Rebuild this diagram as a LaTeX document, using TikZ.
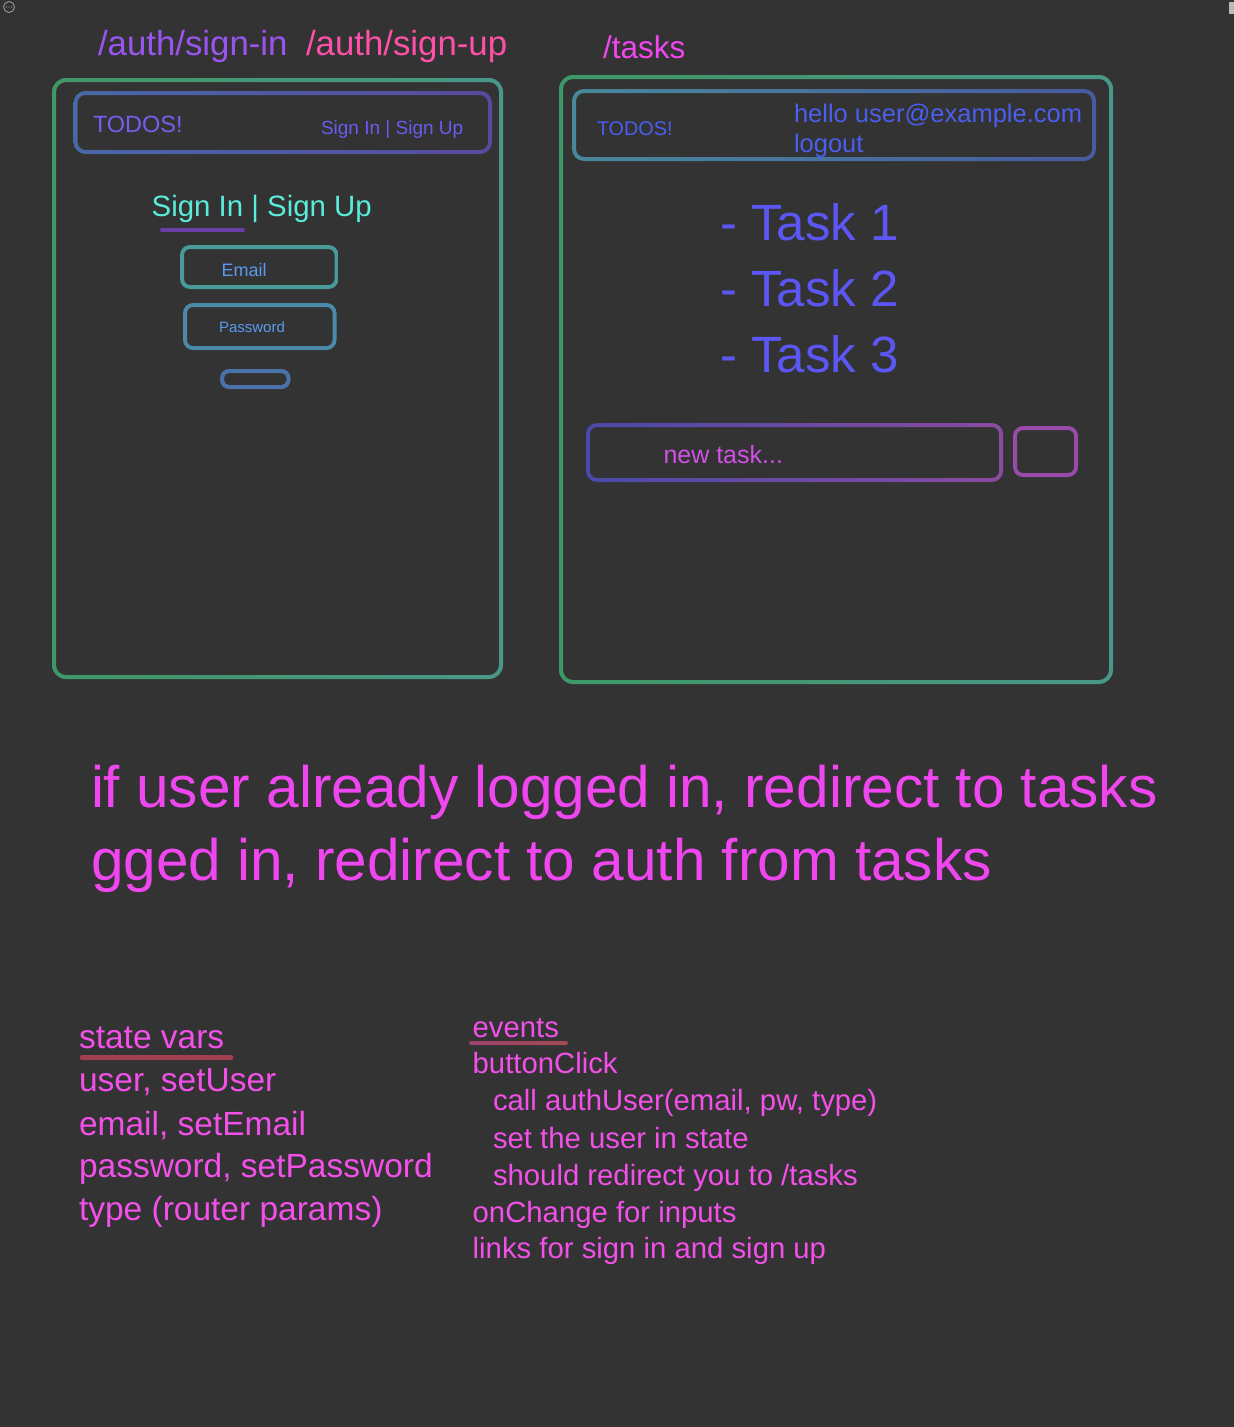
\documentclass[tikz,border=0pt]{standalone}
\usepackage{fontspec}
\setmainfont{Liberation Sans}

\definecolor{bg}{RGB}{51,51,51}
\definecolor{frameGreenA}{RGB}{62,152,102}
\definecolor{frameGreenB}{RGB}{72,152,136}
\definecolor{hdrLeftA}{RGB}{72,104,166}
\definecolor{hdrLeftB}{RGB}{88,74,158}
\definecolor{hdrRightA}{RGB}{72,136,154}
\definecolor{hdrRightB}{RGB}{72,90,160}
\definecolor{routeIn}{RGB}{154,85,240}
\definecolor{routeUp}{RGB}{255,80,168}
\definecolor{magentaTxt}{RGB}{240,70,240}
\definecolor{noteTxt}{RGB}{242,80,232}
\definecolor{todoLeft}{RGB}{122,92,240}
\definecolor{linkLeft}{RGB}{106,92,240}
\definecolor{tealTxt}{RGB}{90,236,218}
\definecolor{uline}{RGB}{106,64,168}
\definecolor{emailBox}{RGB}{74,154,154}
\definecolor{passBox}{RGB}{74,138,168}
\definecolor{btnBox}{RGB}{74,114,168}
\definecolor{fieldTxt}{RGB}{90,154,240}
\definecolor{blueTxt}{RGB}{74,94,240}
\definecolor{taskTxt}{RGB}{92,86,245}
\definecolor{newTaskA}{RGB}{74,74,168}
\definecolor{newTaskB}{RGB}{138,74,160}
\definecolor{addBox}{RGB}{154,74,168}
\definecolor{newTaskTxt}{RGB}{210,80,232}
\definecolor{stateLine}{RGB}{160,64,80}
\definecolor{eventLineA}{RGB}{160,64,112}
\definecolor{eventLineB}{RGB}{160,76,80}

\newcommand\txtsize[1]{\fontsize{#1}{#1}\selectfont}

% rounded frame of width 4 with a horizontal colour gradient:
% #1,#2 top-left, #3,#4 bottom-right (centre line), #5 left colour, #6 right colour, #7 radius
\newcommand\gframe[7]{%
  \pgfmathsetmacro\froute{#7+2}\pgfmathsetmacro\frin{#7-2}%
  \shade[left color=#5,right color=#6,even odd rule]
    [rounded corners=\froute pt] (#1-2,#2-2) rectangle (#3+2,#4+2)
    [rounded corners=\frin pt] (#1+2,#2+2) rectangle (#3-2,#4-2);}

\begin{document}
\begin{tikzpicture}[x=1pt,y=-1pt,
  every node/.style={inner sep=0pt,outer sep=0pt,anchor=base west},
  route/.style={font=\txtsize{34.8}},
  bigline/.style={font=\txtsize{58.5},text=magentaTxt},
  note/.style={font=\txtsize{33.5},text=noteTxt},
  event/.style={font=\txtsize{29.3},text=noteTxt},
  task/.style={font=\txtsize{51},text=taskTxt}]

\fill[bg] (0,0) rectangle (1234,1427);
\useasboundingbox (0,0) rectangle (1234,1427);

% window controls
\draw[gray!75,line width=0.8] (9,7) circle (5.5);
\foreach \dx in {-2.5,0,2.5} \fill[gray!75] (9+\dx,7) circle (0.6);
\fill[gray!55] (1229,2) rectangle (1234,14);

% route labels
\node[route,text=routeIn] (rtIn) at (98,55) {/auth/sign-in};
\node[route,text=routeUp] (rtUp) at (306,55) {/auth/sign-up};
\node[font=\txtsize{31.5},text=magentaTxt] (rtTasks) at (603,58) {/tasks};

% ---------- auth page ----------
\gframe{54}{80}{501}{677}{frameGreenA}{frameGreenB}{12}
\gframe{75.5}{93}{490}{152}{hdrLeftA}{hdrLeftB}{10}
\node[font=\txtsize{23.5},text=todoLeft] (authBrand) at (93,132) {TODOS!};
\node[font=\txtsize{19},text=linkLeft] (authLinks) at (321,134) {Sign In | Sign Up};

\node[font=\txtsize{29.4},text=tealTxt] (authTitle) at (151.7,216.7) {Sign In | Sign Up};
\draw[uline,line width=4,line cap=round] (162,230) -- (243,230);

\gframe{182}{247}{336.5}{287}{emailBox}{emailBox}{8}
\node[font=\txtsize{18},text=fieldTxt] (emailTxt) at (221.7,276) {Email};
\gframe{185}{305}{334.5}{348}{passBox}{passBox}{8}
\node[font=\txtsize{15},text=fieldTxt] (passTxt) at (219,332.7) {Password};
\gframe{222}{371}{288.5}{387}{btnBox}{btnBox}{7}

% ---------- tasks page ----------
\gframe{561}{77}{1111}{682}{frameGreenA}{frameGreenB}{12}
\gframe{574}{91}{1094}{159}{hdrRightA}{hdrRightB}{10}
\node[font=\txtsize{19.8},text=blueTxt] (taskBrand) at (597,135) {TODOS!};
\node[font=\txtsize{25.5},text=blueTxt] (hello) at (794,122) {hello user@example.com};
\node[font=\txtsize{25.5},text=blueTxt] (logout) at (794,152) {logout};

\node[task] (t1) at (720,240) {- Task 1};
\node[task] (t2) at (720,306) {- Task 2};
\node[task] (t3) at (720,372) {- Task 3};

\gframe{588}{425}{1001}{480}{newTaskA}{newTaskB}{9}
\node[font=\txtsize{25},text=newTaskTxt] (newTask) at (663.5,463) {new task...};
\gframe{1015}{428}{1076}{475}{addBox}{addBox}{8}

% ---------- redirect notes ----------
\node[bigline] (rule1) at (91,807) {if user already logged in, redirect to tasks};
\node[bigline] (rule2) at (91,880) {gged in, redirect to auth from tasks};

% ---------- state vars ----------
\node[note] (sv) at (79,1048) {state vars};
\draw[stateLine,line width=5,line cap=round] (82,1057.5) -- (231,1057.5);
\node[note] (sv1) at (79,1091) {user, setUser};
\node[note] (sv2) at (79,1135) {email, setEmail};
\node[note] (sv3) at (79,1177) {password, setPassword};
\node[note] (sv4) at (79,1220) {type (router params)};

% ---------- events ----------
\node[event] (ev) at (472.7,1037) {events};
\shade[left color=eventLineA,right color=eventLineB,rounded corners=2pt] (469,1041) rectangle (568,1045);
\node[event] (ev1) at (472.7,1073) {buttonClick};
\node[event] (ev2) at (493,1110) {call authUser(email, pw, type)};
\node[event] (ev3) at (493,1148) {set the user in state};
\node[event] (ev4) at (493,1185) {should redirect you to /tasks};
\node[event] (ev5) at (472.7,1222) {onChange for inputs};
\node[event] (ev6) at (472.7,1258) {links for sign in and sign up};

\end{tikzpicture}
\end{document}
